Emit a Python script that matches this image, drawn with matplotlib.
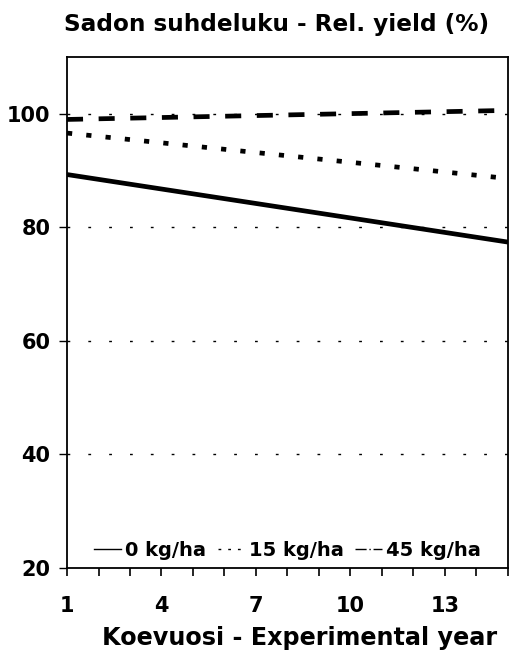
import numpy as np
import matplotlib
matplotlib.use("Agg")
import matplotlib.pyplot as plt
from matplotlib.lines import Line2D

plt.rcParams['font.family'] = ['DejaVu Sans']
plt.rcParams['font.weight'] = 'bold'

# relative yield, start and end of fitted trend lines
years = [1, 15]
yield_0 = [89.3, 77.4]
yield_15 = [96.6, 88.6]
yield_45 = [99.0, 100.6]
labels = ["0 kg/ha", "15 kg/ha", "45 kg/ha"]

xticks = [1, 4, 7, 10, 13]
yticks = [20, 40, 60, 80, 100]

fig = plt.figure(figsize=(5.1, 6.66), dpi=100)
ax = fig.add_axes([67 / 510, 1 - 568 / 666, 441 / 510, 511 / 666])

for y in yticks[1:]:
    ax.axhline(y, color="black", lw=1, ls=(0, (2, 13)), zorder=1)

ax.plot(years, yield_0, color="black", lw=3.4, solid_capstyle="butt", label=labels[0])
ax.plot(years, yield_15, color="black", lw=3.4, ls=(0, (1.1, 3.0)), label=labels[1])
ax.plot(years, yield_45, color="black", lw=3.4, ls=(0, (3.4, 3.3)), label=labels[2])

ax.set_xlim(1, 15)
ax.set_ylim(20, 110)
ax.set_xticks(xticks)
ax.set_xticks(range(1, 16), minor=True)
ax.set_yticks(yticks)
ax.tick_params(axis="x", which="both", direction="out", length=6, width=1.2, labelsize=15, pad=14)
ax.tick_params(axis="y", direction="out", length=6, width=1, labelsize=15, pad=6)
for s in ax.spines.values():
    s.set_linewidth(1.3)

ax.set_title("Sadon suhdeluku - Rel. yield (%)", fontsize=16.7, fontweight="bold",
             pad=19, x=0.476)
ax.set_xlabel("Koevuosi - Experimental year", fontsize=17.2, fontweight="bold",
              labelpad=7, x=0.528)

handles = [
    Line2D([], [], color="black", lw=1),
    Line2D([], [], color="black", lw=1, ls=(0, (2, 5))),
    Line2D([], [], color="black", lw=1, ls=(0, (8, 2, 1, 2))),
]
ax.legend(handles, labels, loc="lower center", ncol=3, frameon=False,
          fontsize=14, handlelength=1.4, handletextpad=0.2, columnspacing=0.6,
          borderaxespad=0.0, bbox_to_anchor=(0.5, 0.0))

fig.savefig("out.png", dpi=100)
